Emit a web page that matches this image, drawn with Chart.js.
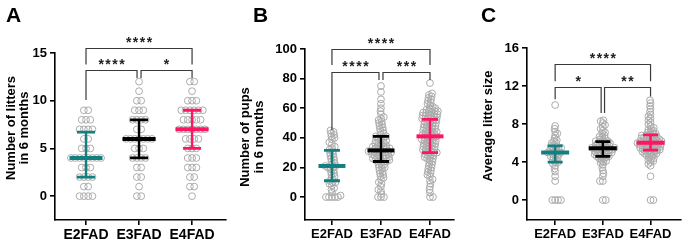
<!DOCTYPE html>
<html><head><meta charset="utf-8">
<script src="https://cdn.jsdelivr.net/npm/chart.js@4.4.1/dist/chart.umd.min.js"></script>
<style>
html,body{margin:0;padding:0;background:#fff;width:685px;height:241px;overflow:hidden}
canvas{position:absolute;left:0;top:0}
</style></head><body>
<canvas id="cA" width="685" height="241"></canvas>
<canvas id="cB" width="685" height="241"></canvas>
<canvas id="cC" width="685" height="241"></canvas>
<script>
// ---------- DATA ----------
const groups = ['E2FAD', 'E3FAD', 'E4FAD'];

// Panel A: number of litters in 6 months
const littersE2 = [9,9,8,8,8,7,7,7,7,6,6,5,5,5,4,4,4,4,4,4,4,4,3,3,3,2,2,2,2,1,1,0,0,0,0];
const littersE3 = [12,11,10,10,9,9,9,8,8,8,8,7,7,6,6,6,6,6,6,6,5,5,5,4,4,4,4,3,3,2,2,1,0,0];
const littersE4 = [12,12,11,10,10,10,9,9,9,9,9,9,8,8,8,8,8,7,7,7,7,7,7,7,6,6,6,6,5,5,5,4,4,4,3,3,3,2,2,1,1,0];
const littersMid = [4, 6, 7];
const littersLow = [2, 4, 5];
const littersHigh = [6.7, 8, 9];
const littersTicks = [0, 5, 10, 15];
const littersStars = ['****', '****', '*'];

// Panel B: number of pups in 6 months
const pupsE2 = [0,0,0,0,0,1,3,5,6,8,9,10,10,11,13,14,15,16,17,18,19,20,20,21,21,22,23,24,25,26,27,28,29,30,31,32,33,34,36,37,39,40,41,42,43,44,45];
const pupsE3 = [0,0,0,2,4,5,7,9,10,12,13,14,15,16,17,18,19,20,20,21,22,22,23,24,24,24,25,25,25,26,26,26,27,27,27,28,28,28,29,29,29,30,30,30,30,31,31,31,31,32,32,32,33,33,33,34,34,34,35,35,36,36,37,37,38,38,39,40,40,41,41,42,43,44,45,46,47,48,49,50,51,52,53,54,56,58,60,63,66,71,75];
const pupsE4 = [0,0,3,5,7,9,11,12,14,15,16,17,18,19,20,21,22,23,24,25,26,26,27,27,28,28,29,29,30,30,30,31,31,32,32,32,33,33,34,34,34,35,35,36,36,36,37,37,38,38,38,39,39,39,40,40,41,41,41,42,42,42,43,43,44,44,44,45,45,46,46,46,47,47,48,48,48,49,49,50,50,50,51,51,52,52,52,53,53,53,54,54,54,55,55,55,56,56,56,57,57,57,58,58,58,59,59,60,60,61,62,63,64,65,66,67,68,69,70,77];
const pupsMid = [21, 31.5, 41];
const pupsLow = [11, 24, 30];
const pupsHigh = [31.5, 41, 52.5];
const pupsTicks = [0, 20, 40, 60, 80, 100];
const pupsStars = ['****', '****', '***'];

// Panel C: average litter size
const sizeE2 = [0,0,0,0,2.0,2.5,3.0,3.3,3.6,3.8,4.0,4.0,4.2,4.3,4.5,4.5,4.6,4.7,4.8,4.8,5.0,5.0,5.0,5.0,5.1,5.2,5.3,5.3,5.4,5.5,5.5,5.6,5.7,5.8,6.0,6.0,6.2,6.3,6.5,6.8,7.0,7.2,7.5,7.8,10.0];
const sizeE3 = [0,0,2.0,2.0,2.5,2.8,3.1,3.4,3.7,3.9,4.0,4.1,4.2,4.3,4.4,4.5,4.5,4.6,4.6,4.7,4.7,4.8,4.8,4.9,4.9,5.0,5.0,5.0,5.1,5.1,5.2,5.2,5.3,5.3,5.3,5.4,5.4,5.4,5.5,5.5,5.5,5.6,5.6,5.7,5.7,5.8,5.8,5.9,5.9,6.0,6.0,6.1,6.1,6.2,6.2,6.3,6.4,6.5,6.6,6.7,6.8,7.0,7.1,7.3,7.5,7.7,7.9,8.1,8.3,8.4];
const sizeE4 = [0,0,2.5,3.6,3.8,4.0,4.1,4.2,4.3,4.4,4.5,4.6,4.7,4.8,4.8,4.9,4.9,5.0,5.0,5.1,5.1,5.2,5.2,5.2,5.3,5.3,5.4,5.4,5.4,5.5,5.5,5.5,5.6,5.6,5.6,5.7,5.7,5.7,5.8,5.8,5.8,5.9,5.9,5.9,6.0,6.0,6.0,6.0,6.1,6.1,6.1,6.2,6.2,6.2,6.3,6.3,6.3,6.4,6.4,6.5,6.5,6.5,6.6,6.6,6.7,6.7,6.8,6.8,6.9,7.0,7.0,7.1,7.2,7.3,7.4,7.5,7.6,7.8,8.0,8.2,8.4,8.6,8.8,9.0,9.3,9.6,9.9,10.2,10.5];
const sizeMid = [5.0, 5.45, 6.03];
const sizeLow = [4.0, 4.6, 5.25];
const sizeHigh = [5.7, 6.15, 6.85];
const sizeTicks = [0, 4, 8, 12, 16];
const sizeStars = ['****', '*', '**'];

// ---------- STYLE / LAYOUT ----------
const FONT = "'Liberation Sans', Arial, sans-serif";
const barColors = ['#13807f', '#000000', '#ff1466'];
const dotColor = '#ababab';

const panels = [
  { id:'cA', letter:'A', letterX:6, title:['Number of litters','in 6 months'], titleX:[11,24], titleY:128,
    left:55, right:226, top:53, bottom:220, xMin:-0.585, xMax:2.64, yMin:-2.5, yMax:15,
    ticks:littersTicks, series:[littersE2,littersE3,littersE4], mid:littersMid, low:littersLow, high:littersHigh,
    stars:littersStars, rows:true, sep:4.3, centerW:33, capW:18, xFont:14,
    brk:[ {a:0,b:2,y:15.5,la:13.8,lb:13.8}, {a:0,b:1,y:13.22,la:10.07,lb:12.38,gb:-2}, {a:1,b:2,y:13.22,la:12.38,lb:12.38,ga:2} ] },
  { id:'cB', letter:'B', letterX:253, title:['Number of pups','in 6 months'], titleX:[245,259], titleY:137,
    left:305, right:454, top:49, bottom:220, xMin:-0.55, xMax:2.49, yMin:-15.5, yMax:100,
    ticks:pupsTicks, series:[pupsE2,pupsE3,pupsE4], mid:pupsMid, low:pupsLow, high:pupsHigh,
    stars:pupsStars, rows:false, sep:3.0, centerW:27, capW:16, xFont:13,
    brk:[ {a:0,b:2,y:100,la:89.2,lb:89.2}, {a:0,b:1,y:84.7,la:45.3,lb:79,gb:-2}, {a:1,b:2,y:84.7,la:79,lb:79,ga:2} ] },
  { id:'cC', letter:'C', letterX:481, title:['Average litter size'], titleX:[488], titleY:126,
    left:527, right:685, top:48, bottom:220, xMin:-0.59, xMax:2.63, yMin:-2.1, yMax:16,
    ticks:sizeTicks, series:[sizeE2,sizeE3,sizeE4], mid:sizeMid, low:sizeLow, high:sizeHigh,
    stars:sizeStars, rows:false, sep:2.9, centerW:28, capW:15, xFont:13,
    brk:[ {a:0,b:2,y:14.3,la:12.5,lb:12.5}, {a:0,b:1,y:11.86,la:10.6,lb:9.15,gb:-1.7}, {a:1,b:2,y:11.86,la:9.15,lb:10.9,ga:1.7} ] }
];

// beeswarm offsets in pixels
function swarm(vals, yPix, sep) {
  const idx = vals.map((v,i)=>i).sort((a,b)=>vals[a]-vals[b]);
  const placed = []; const out = new Array(vals.length); let side = 1;
  for (const i of idx) {
    const y = yPix(vals[i]);
    const near = placed.filter(p => Math.abs(p.y - y) < sep);
    const cands = [0];
    for (const p of near) { const dx = Math.sqrt(sep*sep - (p.y-y)*(p.y-y)); cands.push(p.x+dx, p.x-dx); }
    cands.sort((a,b) => { const d = Math.abs(a)-Math.abs(b); if (Math.abs(d) > 1e-6) return d; return (b-a)*side; });
    let best = 0;
    for (const c of cands) {
      if (near.every(p => (p.x-c)*(p.x-c) + (p.y-y)*(p.y-y) >= sep*sep - 0.01)) { best = c; break; }
    }
    placed.push({x:best, y}); out[i] = best; if (best !== 0) side = -Math.sign(best);
  }
  return out;
}
function rowsLayout(vals, sep) {
  const counts = {}, seen = {};
  vals.forEach(v => counts[v] = (counts[v]||0) + 1);
  return vals.map(v => { const k = seen[v] = (seen[v]===undefined ? 0 : seen[v]+1); return (k - (counts[v]-1)/2) * sep; });
}

const decor = {
  id:'decor',
  afterDatasetsDraw(chart, args, o) {
    const P = o.panel, ctx = chart.ctx, xs = chart.scales.x, ys = chart.scales.y;
    ctx.save();
    // error bars (median with IQR)
    for (let g = 0; g < 3; g++) {
      const x = xs.getPixelForValue(g), yc = ys.getPixelForValue(P.mid[g]);
      const yl = ys.getPixelForValue(P.low[g]), yh = ys.getPixelForValue(P.high[g]);
      ctx.strokeStyle = barColors[g]; ctx.lineCap = 'butt';
      ctx.lineWidth = 2.4; ctx.beginPath(); ctx.moveTo(x, yl); ctx.lineTo(x, yh); ctx.stroke();
      ctx.lineWidth = 2.8; ctx.beginPath();
      ctx.moveTo(x-P.capW/2, yl); ctx.lineTo(x+P.capW/2, yl);
      ctx.moveTo(x-P.capW/2, yh); ctx.lineTo(x+P.capW/2, yh); ctx.stroke();
      ctx.lineWidth = 4; ctx.beginPath(); ctx.moveTo(x-P.centerW/2, yc); ctx.lineTo(x+P.centerW/2, yc); ctx.stroke();
    }
    // significance brackets
    ctx.strokeStyle = '#3a3a3a'; ctx.lineWidth = 1.2;
    P.brk.forEach((b, k) => {
      const xa = xs.getPixelForValue(b.a) + (b.ga||0), xb = xs.getPixelForValue(b.b) + (b.gb||0);
      const y = Math.round(ys.getPixelForValue(b.y)) + 0.5;
      ctx.beginPath();
      ctx.moveTo(xa, ys.getPixelForValue(b.la)); ctx.lineTo(xa, y); ctx.lineTo(xb, y); ctx.lineTo(xb, ys.getPixelForValue(b.lb));
      ctx.stroke();
      ctx.fillStyle = '#222'; ctx.font = 'bold 14px ' + FONT; ctx.textAlign = 'center'; ctx.textBaseline = 'alphabetic';
      ctx.letterSpacing = '1.5px';
      ctx.fillText(P.stars[k], (xa+xb)/2 + 0.75, y - 2);
      ctx.letterSpacing = '0px';
    });
    ctx.restore();
  },
  afterDraw(chart, args, o) {
    const P = o.panel, ctx = chart.ctx;
    ctx.save();
    ctx.fillStyle = '#000';
    ctx.font = 'bold 21px ' + FONT; ctx.textAlign = 'left'; ctx.textBaseline = 'alphabetic';
    ctx.fillText(P.letter, P.letterX, 22);
    ctx.font = 'bold 13px ' + FONT; ctx.textAlign = 'center'; ctx.textBaseline = 'middle';
    P.title.forEach((t, i) => {
      ctx.save(); ctx.translate(P.titleX[i], P.titleY); ctx.rotate(-Math.PI/2); ctx.fillText(t, 0, 0); ctx.restore();
    });
    ctx.restore();
  }
};

panels.forEach(P => {
  const datasets = P.series.map((vals, g) => ({
    data: vals.map(v => ({x:g, y:v})),
    pointRadius: 3.4, pointHoverRadius: 3.4, pointBorderWidth: 1,
    pointBorderColor: dotColor, pointBackgroundColor: 'rgba(255,255,255,0)', showLine:false, clip:false
  }));
  const axisCommon = {
    border: {display:true, color:'#000', width:1.6},
    grid: {display:true, drawOnChartArea:false, drawTicks:true, tickLength:5, color:'#000', lineWidth:1.6},
  };
  const chart = new Chart(document.getElementById(P.id), {
    type:'scatter',
    data:{datasets},
    options:{
      responsive:false, animation:false, devicePixelRatio:1,
      layout:{padding:{left:0, top:P.top, right:685-P.right, bottom:0}},
      plugins:{legend:{display:false}, tooltip:{enabled:false}, decor:{panel:P}},
      scales:{
        x:{ type:'linear', min:P.xMin, max:P.xMax, ...axisCommon,
            afterFit(s){ s.height = 241 - P.bottom; },
            afterBuildTicks(s){ s.ticks = [0,1,2].map(v=>({value:v})); },
            ticks:{ color:'#000', font:{family:FONT, size:P.xFont, weight:'bold'}, padding:2, maxRotation:0, autoSkip:false,
                    callback:(v)=>groups[v] } },
        y:{ type:'linear', min:P.yMin, max:P.yMax, ...axisCommon,
            afterFit(s){ s.width = P.left; },
            afterBuildTicks(s){ s.ticks = P.ticks.map(v=>({value:v})); },
            ticks:{ color:'#000', font:{family:FONT, size:13, weight:'bold'}, padding:3, autoSkip:false } }
      }
    },
    plugins:[decor]
  });
  // spread points horizontally (scatter dot plot)
  const pxPerX = (chart.scales.x.right - chart.scales.x.left) / (P.xMax - P.xMin);
  P.series.forEach((vals, g) => {
    const offs = P.rows ? rowsLayout(vals, P.sep) : swarm(vals, v => chart.scales.y.getPixelForValue(v), P.sep);
    chart.data.datasets[g].data = vals.map((v, i) => ({x: g + offs[i]/pxPerX, y: v}));
  });
  chart.update('none');
});
</script>
</body></html>
